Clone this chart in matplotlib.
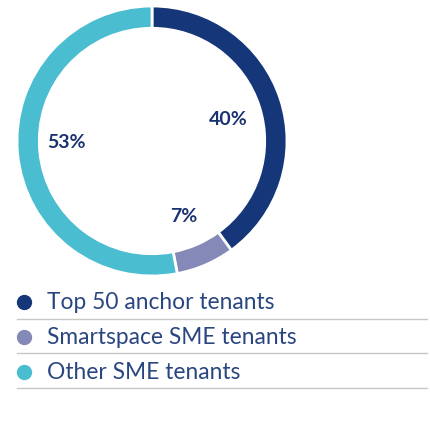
import matplotlib.pyplot as plt
from matplotlib.lines import Line2D

# --- Data ---
categories = ['Top 50 anchor tenants', 'Smartspace SME tenants', 'Other SME tenants']
shares = [40, 7, 53]
colors = ['#15377a', '#8589b8', '#4bbdd0']
pct_labels = ['40%', '7%', '53%']

W, H = 430, 423
fig = plt.figure(figsize=(W / 100, H / 100), dpi=100)

# donut centred at (152, 141) px with radius 135 px
cx, cy, r = 152, 141, 135
ax = fig.add_axes([(cx - r) / W, (H - cy - r) / H, 2 * r / W, 2 * r / H])
wedges, _ = ax.pie(shares, colors=colors, startangle=90, counterclock=False,
                   radius=1.0,
                   wedgeprops=dict(width=0.165, edgecolor='white', linewidth=2))
ax.set_aspect('equal')
ax.set_xlim(-1, 1)
ax.set_ylim(-1, 1)

# percentage labels inside the ring
label_pos = [(228, 119), (184, 216), (66, 142)]
for txt, (px, py) in zip(pct_labels, label_pos):
    fig.text(px / W, 1 - py / H, txt, ha='center', va='center',
             fontsize=14, fontweight='bold', color='#1a3370', family='Lato')

# legend rows with separator lines
row_y = [302, 337, 372]
line_y = [319, 353, 388]
for name, col, ry, ly in zip(categories, colors, row_y, line_y):
    fig.add_artist(Line2D([24 / W], [1 - ry / H], marker='o', markersize=10,
                          color=col, linestyle='none'))
    fig.text(47 / W, 1 - ry / H, name, ha='left', va='center',
             fontsize=16.4, fontweight='normal', color='#2a4680', family='Lato')
    fig.add_artist(Line2D([17 / W, 427 / W], [1 - ly / H, 1 - ly / H],
                          color='#c8c8c8', linewidth=1))

fig.savefig('out.png', dpi=100)
